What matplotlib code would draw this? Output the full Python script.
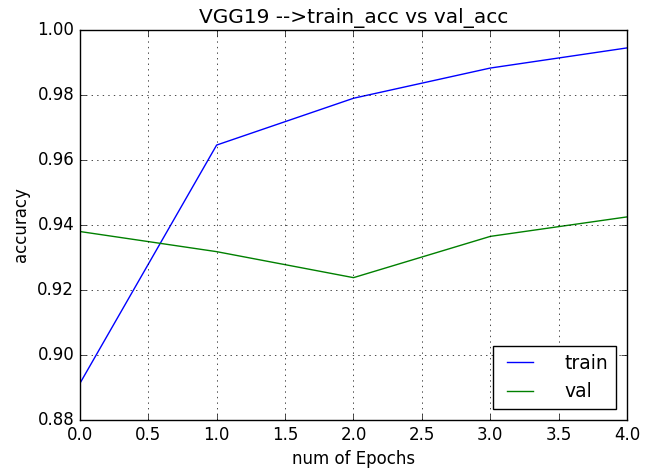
import matplotlib
matplotlib.use("Agg")
from matplotlib import pyplot as plt

epochs = [0, 1, 2, 3, 4]
train_acc = [0.8912, 0.9646, 0.9790, 0.9883, 0.9945]
val_acc = [0.9380, 0.9318, 0.9238, 0.9365, 0.9425]

plt.style.use("classic")
fig = plt.figure(figsize=(6.54, 4.69), dpi=100)
ax = fig.add_axes([0.122, 0.1045, 0.837, 0.8315])

ax.plot(epochs, train_acc, color="b", label="train")
ax.plot(epochs, val_acc, color="g", label="val")
ax.set_ylim(0.88, 1.00)
ax.set_xlim(0, 4)
ax.set_xticks([0, 0.5, 1, 1.5, 2, 2.5, 3, 3.5, 4])
ax.grid(True)
ax.set_title("VGG19 -->train_acc vs val_acc", fontsize=14.5)
ax.set_xlabel("num of Epochs", fontsize=12)
ax.set_ylabel("accuracy", fontsize=12)
ax.tick_params(labelsize=12)
ax.legend(loc="lower right", fontsize=13.5, handletextpad=1.4, borderaxespad=0.6)

fig.savefig("out.png", dpi=100)
